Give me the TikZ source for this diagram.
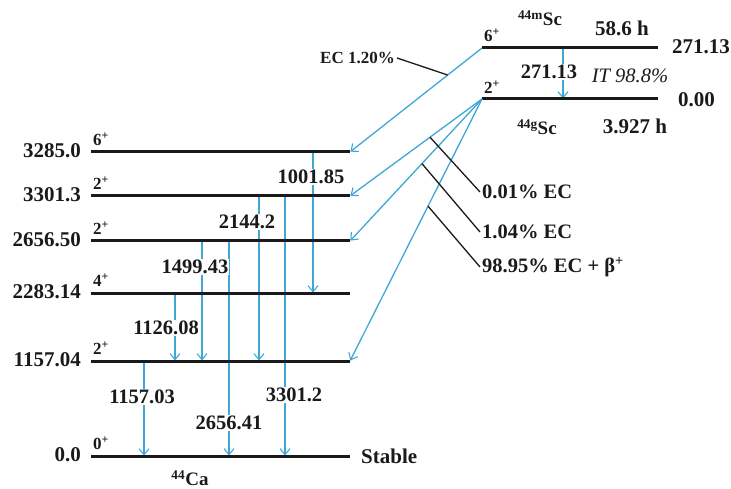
\documentclass[tikz,border=0pt]{standalone}
\usepackage{fontspec}
\setmainfont{Liberation Serif}
\usepackage{tikz}
\usetikzlibrary{arrows.meta,calc}
\definecolor{gammablue}{HTML}{3FA7D6}
\definecolor{ink}{HTML}{1A1A1A}

\begin{document}
\begin{tikzpicture}[x=1pt, y=-1pt,
  level/.style={ink, line width=3pt},
  gam/.style={gammablue, line width=1.3pt, shorten >=0.5pt,
    -{Straight Barb[length=6pt,width=10pt,line width=1.1pt]}},
  pointer/.style={ink, line width=1.3pt},
  elabel/.style={text=ink, inner sep=1pt, font=\fontsize{21}{24}\selectfont\bfseries},
  glabel/.style={elabel, fill=white, font=\fontsize{20.5}{24}\selectfont\bfseries},
  spinlabel/.style={text=ink, inner sep=0pt, anchor=west, font=\fontsize{17}{19}\selectfont\bfseries},
  plabel/.style={text=ink, inner sep=2pt, font=\fontsize{20.5}{24}\selectfont\bfseries},
  nuclide/.style={text=ink, inner sep=1pt, font=\fontsize{19}{22}\selectfont\bfseries}]
  \useasboundingbox (0,0) rectangle (731,489);
  % 44Ca levels
  \foreach \n/\y/\e/\s in {3285/152/3285.0/6, 3301/196/3301.3/2, 2656/241/2656.50/2,
                           2283/293/2283.14/4, 1157/361/1157.04/2, 0/456/0.0/0} {
    \coordinate (L\n) at (91,\y);
    \coordinate (R\n) at (350,\y);
  }
  % gamma transitions
  \foreach \x/\a/\b in {313/3285/2283, 259/3301/1157, 285/3301/0, 229/2656/0,
                        202/2656/1157, 175/2283/1157, 144/1157/0}
    \draw[gam] (\x,0 |- L\a) -- (\x,0 |- L\b);
  \foreach \n/\y/\e/\s in {3285/152/3285.0/6, 3301/196/3301.3/2, 2656/241/2656.50/2,
                           2283/293/2283.14/4, 1157/361/1157.04/2, 0/456/0.0/0} {
    \draw[level] (L\n) -- (R\n);
    \node[elabel, anchor=east] (e\n) at (82,\y-1) {\e};
    \node[spinlabel] (s\n) at (93,\y-13) {\s\textsuperscript{+}};
  }
  \foreach \n/\x/\y/\t in {g1001/311/177/1001.85, g2144/247/222/2144.2, g1499/195/267/1499.43,
                           g1126/166/328/1126.08, g1157/142/397/1157.03, g3301/294/395/3301.2,
                           g2656/229/423/2656.41}
    \node[glabel] (\n) at (\x,\y) {\t};
  \node[elabel, anchor=west] (stable) at (360,456) {Stable};
  \node[nuclide] (ca) at (190,478) {\textsuperscript{44}Ca};

  % 44Sc levels
  \coordinate (M6) at (482,48);
  \coordinate (G2) at (482,99);
  \draw[gam] (563,0 |- M6) -- (563,0 |- G2);
  \draw[level] (M6) -- (658,48);
  \draw[level] (G2) -- (658,99);
  \node[spinlabel] (sm6) at (484,35) {6\textsuperscript{+}};
  \node[spinlabel] (sg2) at (484,87) {2\textsuperscript{+}};
  \node[nuclide] (scm) at (540,18) {\textsuperscript{44m}Sc};
  \node[nuclide] (scg) at (537,127) {\textsuperscript{44g}Sc};
  \node[elabel] (tm) at (622,28) {58.6 h};
  \node[elabel] (tg) at (635,126) {3.927 h};
  \node[elabel, anchor=west] (em6) at (671,47) {271.13};
  \node[elabel, anchor=west] (eg2) at (677,100) {0.00};
  \node[glabel] (git) at (549,72) {271.13};
  \node[elabel, font=\fontsize{20.5}{24}\selectfont\itshape] (it) at (630,76) {IT 98.8\%};

  % EC feeding
  \draw[gam] (M6) -- (R3285);
  \foreach \n in {3301,2656,1157}
    \draw[gam] (G2) -- (R\n);
  \node[plabel, anchor=east, font=\fontsize{17}{20}\selectfont\bfseries] (ec120) at (397,58) {EC 1.20\%};
  \draw[pointer] (ec120.east) -- ($(M6)!0.26!(R3285)$);
  \node[plabel, anchor=west] (ec001) at (480,192) {0.01\% EC};
  \draw[pointer] (ec001.west) -- ($(G2)!0.394!(R3301)$);
  \node[plabel, anchor=west] (ec104) at (480,232) {1.04\% EC};
  \draw[pointer] (ec104.west) -- ($(G2)!0.455!(R2656)$);
  \node[plabel, anchor=west] (ec9895) at (480,267) {98.95\% EC + β\textsuperscript{+}};
  \draw[pointer] (ec9895.west) -- ($(G2)!0.409!(R1157)$);
\end{tikzpicture}
\end{document}
